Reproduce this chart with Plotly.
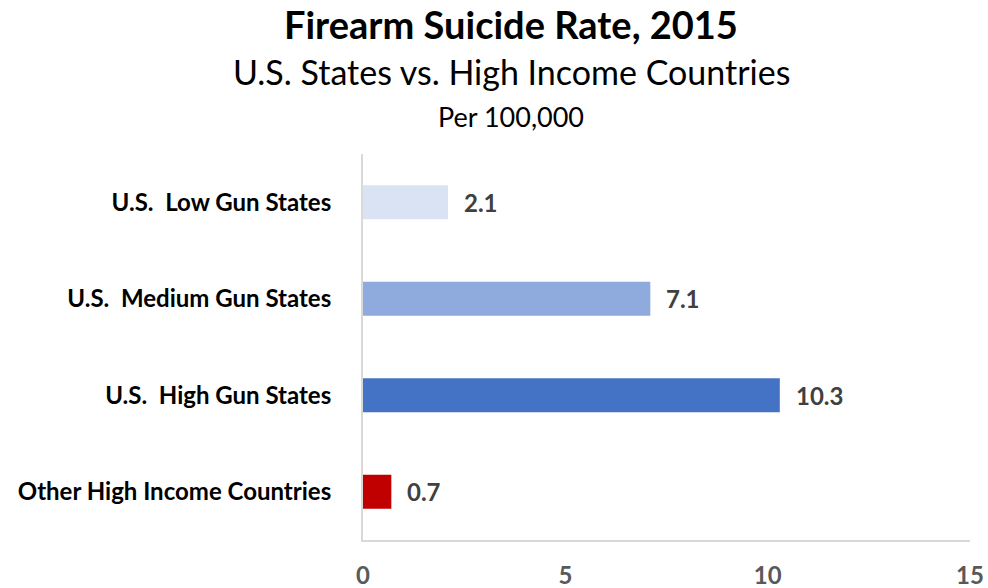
import plotly.graph_objects as go

categories = [
    "U.S.  Low Gun States",
    "U.S.  Medium Gun States",
    "U.S.  High Gun States",
    "Other High Income Countries",
]
rates = [2.1, 7.1, 10.3, 0.7]
bar_colors = ["#DAE3F3", "#8FAADC", "#4472C4", "#C00000"]
x_ticks = [0, 5, 10, 15]

FONT = "Lato"

fig = go.Figure()
fig.add_trace(go.Bar(
    y=categories,
    x=rates,
    orientation="h",
    width=0.35,
    marker=dict(color=bar_colors, line=dict(width=0)),
    hoverinfo="skip",
))

# value labels just past the end of each bar
for cat, val in zip(categories, rates):
    fig.add_annotation(
        x=val, y=cat, text=f"<b>{val}</b>", showarrow=False,
        xanchor="left", yanchor="middle", xshift=14,
        font=dict(family=FONT, size=24, color="#404040"),
    )

L, R, T, B = 363, 18, 154, 48
W, H = 988, 588
plot_h = H - T - B
plot_w = W - L - R


def px_y(y):
    return 1 + (T - y) / plot_h


cx = (511 - L) / plot_w

fig.add_annotation(xref="paper", yref="paper", x=cx, y=px_y(24), text="<b>Firearm Suicide Rate, 2015</b>",
                   showarrow=False, xanchor="center", yanchor="middle",
                   font=dict(family=FONT, size=38, color="#000000"))
fig.add_annotation(xref="paper", yref="paper", x=cx, y=px_y(72), text="U.S. States vs. High Income Countries",
                   showarrow=False, xanchor="center", yanchor="middle",
                   font=dict(family=FONT, size=34, color="#000000"))
fig.add_annotation(xref="paper", yref="paper", x=cx, y=px_y(116), text="Per 100,000",
                   showarrow=False, xanchor="center", yanchor="middle",
                   font=dict(family=FONT, size=27, color="#000000"))

fig.update_layout(
    width=W, height=H,
    margin=dict(l=L, r=R, t=T, b=B, autoexpand=False),
    paper_bgcolor="white", plot_bgcolor="white",
    showlegend=False,
    font=dict(family=FONT),
    xaxis=dict(
        range=[0, 15], tickvals=x_ticks, ticktext=[f"<b>{v}</b>" for v in x_ticks],
        showgrid=False, zeroline=False, automargin=False,
        showline=True, linecolor="#D9D9D9", linewidth=2,
        ticks="", ticklabelstandoff=13,
        tickfont=dict(family=FONT, size=24, color="#595959"),
        fixedrange=True,
    ),
    yaxis=dict(
        categoryorder="array", categoryarray=categories, autorange="reversed",
        showgrid=False, zeroline=False, automargin=False,
        showline=True, linecolor="#D9D9D9", linewidth=2,
        ticks="", ticklabelstandoff=25,
        tickvals=categories, ticktext=[f"<b>{c}</b>" for c in categories],
        tickfont=dict(family=FONT, size=24, color="#000000"),
        fixedrange=True,
    ),
)

fig.write_html("out.html")
